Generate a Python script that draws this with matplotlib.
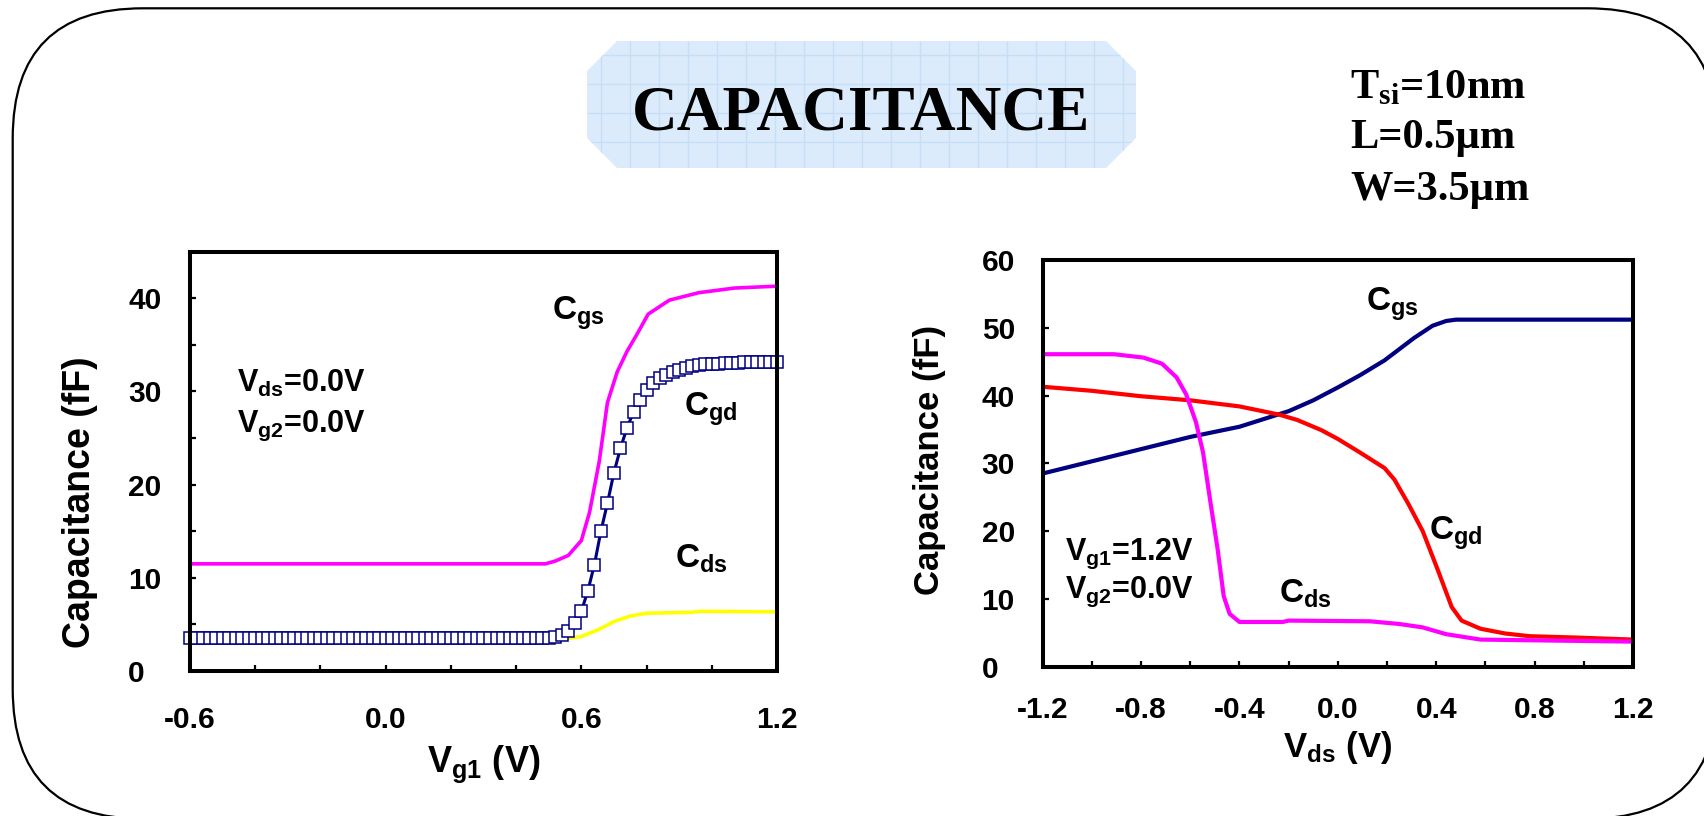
import numpy as np
import matplotlib
matplotlib.use("Agg")
import matplotlib.pyplot as plt
from matplotlib.patches import FancyBboxPatch, Polygon

plt.rcParams['font.family'] = ['Liberation Sans', 'DejaVu Sans']
plt.rcParams['font.weight'] = 'bold'
plt.rcParams['axes.labelweight'] = 'bold'
plt.rcParams['mathtext.fontset'] = 'custom'
plt.rcParams['mathtext.rm'] = 'Liberation Sans:bold'
plt.rcParams['mathtext.it'] = 'Liberation Sans:bold'
plt.rcParams['mathtext.bf'] = 'Liberation Serif:bold'

# ---- C-V sweep at Vds = 0, Vg2 = 0 (left panel) ----
vg1_cgd = [round(-0.6 + 0.02 * i, 2) for i in range(91)]
cgd_vg1 = [3.5] * 56 + [
    3.7, 3.9, 4.3, 5.1, 6.4, 8.6, 11.4, 15.0, 18.0, 21.3,
    23.9, 26.1, 27.8, 29.1, 30.2, 30.9, 31.4, 31.8, 32.1, 32.3,
    32.5, 32.7, 32.8, 32.9, 33.0, 33.0, 33.1, 33.1, 33.1, 33.2,
    33.2, 33.2, 33.2, 33.2, 33.2]

vg1_cgs = [-0.6, 0.49, 0.52, 0.56, 0.60, 0.625, 0.655, 0.68, 0.71, 0.74,
           0.77, 0.805, 0.87, 0.96, 1.07, 1.2]
cgs_vg1 = [11.5, 11.5, 11.8, 12.4, 14.0, 17.0, 22.5, 28.8, 32.1, 34.3,
           36.1, 38.3, 39.8, 40.6, 41.1, 41.3]

vg1_cds = [-0.6, 0.56, 0.60, 0.65, 0.70, 0.75, 0.80, 0.94, 0.96, 1.2]
cds_vg1 = [3.5, 3.5, 3.7, 4.4, 5.3, 5.9, 6.2, 6.3, 6.4, 6.35]

# ---- C-V sweep at Vg1 = 1.2V, Vg2 = 0 (right panel) ----
vds_cgs = [-1.2, -1.0, -0.8, -0.6, -0.4, -0.2, -0.1, 0.0, 0.09, 0.19,
           0.31, 0.385, 0.44, 0.48, 1.2]
cgs_vds = [28.5, 30.3, 32.1, 33.9, 35.4, 37.7, 39.3, 41.2, 43.0, 45.2,
           48.5, 50.3, 51.0, 51.2, 51.2]

vds_cgd = [-1.2, -1.0, -0.8, -0.6, -0.4, -0.24, -0.165, -0.067, 0.0, 0.09,
           0.19, 0.23, 0.287, 0.345, 0.405, 0.463, 0.503, 0.58, 0.68, 0.78,
           0.97, 1.2]
cgd_vds = [41.3, 40.7, 39.9, 39.3, 38.4, 37.2, 36.4, 34.9, 33.6, 31.6,
           29.3, 27.6, 24.0, 20.0, 14.4, 8.8, 6.8, 5.6, 4.9, 4.5,
           4.3, 4.0]

vds_cds = [-1.2, -0.91, -0.79, -0.715, -0.656, -0.617, -0.577, -0.548, -0.519,
           -0.489, -0.464, -0.44, -0.4, -0.224, -0.2, 0.13, 0.25, 0.345, 0.44,
           0.58, 0.78, 1.2]
cds_vds = [46.1, 46.1, 45.6, 44.7, 42.7, 40.2, 36.1, 31.6, 24.5,
           17.4, 10.4, 7.8, 6.6, 6.6, 6.8, 6.7, 6.3, 5.8, 4.8,
           4.0, 3.9, 3.7]

left_xticks = [-0.6, 0.0, 0.6, 1.2]
left_yticks = [0, 10, 20, 30, 40]
right_xticks = [-1.2, -0.8, -0.4, 0.0, 0.4, 0.8, 1.2]
right_yticks = [0, 10, 20, 30, 40, 50, 60]

W, H = 1704, 816
fig = plt.figure(figsize=(W / 100, H / 100), dpi=100)

# background layer in pixel units
bg = fig.add_axes([0, 0, 1, 1], zorder=0)
bg.set_xlim(0, W)
bg.set_ylim(H, 0)
bg.axis('off')

frame = FancyBboxPatch((12.7, 8.3), 1705, 810.5,
                       boxstyle="round,pad=0,rounding_size=130",
                       fc='white', ec='black', lw=1.6, clip_on=False)
bg.add_patch(frame)

# title plate
x0, x1, y0, y1, cut = 587, 1136, 41, 168, 30
plate = Polygon([(x0 + cut, y0), (x1 - cut, y0), (x1, y0 + cut), (x1, y1 - cut),
                 (x1 - cut, y1), (x0 + cut, y1), (x0, y1 - cut), (x0, y0 + cut)],
                closed=True, fc='#dcebfb', ec='none')
bg.add_patch(plate)
gv = bg.vlines(np.arange(x0 + 14, x1, 29), y0, y1, colors='#c6dff7', lw=1.0)
gh = bg.hlines(np.arange(y0 + 14, y1, 29), x0, x1, colors='#c6dff7', lw=1.0)
gv.set_clip_path(plate)
gh.set_clip_path(plate)
bg.text(861, 130, 'CAPACITANCE', family='Liberation Serif', weight='bold',
        fontsize=45.5, ha='center', va='baseline')

ptxt = dict(family='Liberation Serif', weight='bold', fontsize=30.5,
            ha='left', va='baseline')
bg.text(1350, 98.3, r'T$_{\mathbf{si}}$=10nm', **ptxt)
bg.text(1350, 148.3, 'L=0.5\u00b5m', **ptxt)
bg.text(1350, 200, 'W=3.5\u00b5m', **ptxt)


def style_axes(ax, xticks, yticks, xminor, yminor, xpad, ypad):
    for s in ax.spines.values():
        s.set_linewidth(2.9)
    ax.set_xticks(xticks)
    ax.set_yticks(yticks)
    ax.set_xticks(xminor, minor=True)
    ax.set_yticks(yminor, minor=True)
    ax.set_xticklabels(['%.1f' % v for v in xticks])
    ax.set_yticklabels(['%d' % v for v in yticks])
    ax.tick_params(which='both', direction='in', length=4, width=1.6,
                   top=False, right=False, labelsize=21.5)
    ax.tick_params(axis='x', pad=xpad)
    ax.tick_params(axis='y', pad=ypad)
    for lbl in ax.get_yticklabels():
        lbl.set_horizontalalignment('left')


# left panel
ax1 = fig.add_axes([190 / W, 1 - 671 / H, 587 / W, 419.3 / H], zorder=2)
ax1.plot(vg1_cgs, cgs_vg1, color='#ff00ff', lw=2.6)
ax1.plot(vg1_cds, cds_vg1, color='#ffff00', lw=2.6)
ax1.plot(vg1_cgd, cgd_vg1, color='#000080', lw=2.2, marker='s', ms=8.3,
         mfc='white', mec='#000080', mew=1.1, clip_on=False)
ax1.set_xlim(-0.6, 1.2)
ax1.set_ylim(0, 45)
style_axes(ax1, left_xticks, left_yticks,
           np.arange(-0.6, 1.21, 0.2), np.arange(0, 45.1, 5), 25, 44.6)
ax1.set_xlabel(r'V$_{g1}$ (V)', fontsize=26)
ax1.xaxis.set_label_coords(0.5, -0.241)
ax1.xaxis.label.set_va('baseline')
ax1.set_ylabel('Capacitance (fF)', fontsize=27)
ax1.yaxis.set_label_coords(-0.187, 0.403)
ax1.yaxis.label.set_va('center')

lbl = dict(fontsize=24, ha='left', va='baseline')
ax1.text(0.511, 37.7, r'C$_{gs}$', **lbl)
ax1.text(0.915, 27.4, r'C$_{gd}$', **lbl)
ax1.text(0.888, 11.15, r'C$_{ds}$', **lbl)
ax1.text(-0.456, 30.0, r'V$_{ds}$=0.0V', fontsize=22, ha='left', va='baseline')
ax1.text(-0.456, 25.7, r'V$_{g2}$=0.0V', fontsize=22, ha='left', va='baseline')

# right panel
ax2 = fig.add_axes([1042.7 / W, 1 - 666.7 / H, 590.3 / W, 406.7 / H], zorder=2)
ax2.plot(vds_cgs, cgs_vds, color='#000080', lw=3)
ax2.plot(vds_cgd, cgd_vds, color='#ff0000', lw=3)
ax2.plot(vds_cds, cds_vds, color='#ff00ff', lw=3)
ax2.set_xlim(-1.2, 1.2)
ax2.set_ylim(0, 60)
style_axes(ax2, right_xticks, right_yticks,
           np.arange(-1.2, 1.21, 0.2), [], 21, 44)
ax2.set_xlabel(r'V$_{ds}$ (V)', fontsize=25)
ax2.xaxis.set_label_coords(0.5, -0.221)
ax2.xaxis.label.set_va('baseline')
ax2.set_ylabel('Capacitance (fF)', fontsize=25)
ax2.yaxis.set_label_coords(-0.1926, 0.508)
ax2.yaxis.label.set_va('center')

ax2.text(0.115, 52.5, r'C$_{gs}$', **lbl)
ax2.text(0.372, 18.75, r'C$_{gd}$', **lbl)
ax2.text(-0.24, 9.4, r'C$_{ds}$', **lbl)
ax2.text(-1.109, 15.74, r'V$_{g1}$=1.2V', fontsize=22, ha='left', va='baseline')
ax2.text(-1.109, 10.1, r'V$_{g2}$=0.0V', fontsize=22, ha='left', va='baseline')

fig.savefig('out.png', dpi=100)
